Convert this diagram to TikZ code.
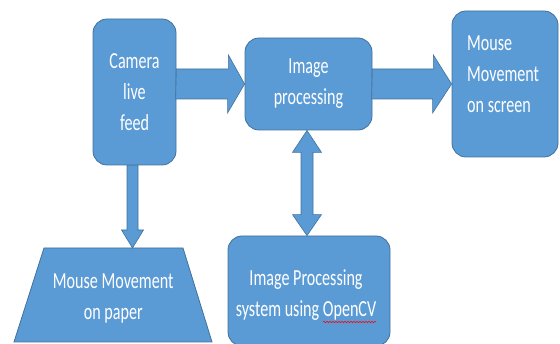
\documentclass[tikz,border=0pt]{standalone}
\usepackage{fontspec}
\setmainfont{Carlito}[FakeStretch=0.70]
\usetikzlibrary{calc,decorations.pathmorphing}
\definecolor{boxblue}{HTML}{5B9BD5}
\definecolor{boxedge}{HTML}{41719C}
\tikzset{
  box/.style={draw=boxedge, line width=0.8pt, fill=boxblue, rounded corners=14pt, inner sep=0pt},
  arr/.style={draw=boxedge, line width=0.6pt, fill=boxblue, line join=miter},
  lbl/.style={text=white, font=\fontsize{23}{31}\selectfont, align=center, inner sep=0pt},
}
\begin{document}
\begin{tikzpicture}[x=1pt,y=-1pt]
\useasboundingbox (0,0) rectangle (560,344);
% boxes
\node[box, minimum width=83pt, minimum height=146pt] (cam) at (134.5,92) {};
\node[box, minimum width=127pt, minimum height=92pt] (img) at (308.5,84) {};
\node[box, minimum width=106pt, minimum height=146pt] (scr) at (505,84) {};
\node[box, minimum width=162pt, minimum height=110pt] (ocv) at (309,291) {};
% trapezoid
\coordinate (t1) at (44,248);
\coordinate (t2) at (183,248);
\coordinate (t3) at (212,342);
\coordinate (t4) at (14,342);
\draw[arr, line width=0.8pt] (t1) -- (t2) -- (t3) -- (t4) -- cycle;
\coordinate (trap) at ($($(t1)!0.5!(t2)$)!0.5!($(t4)!0.5!(t3)$)$);
% labels
\node[lbl] (camtext) at (cam.center) {Camera\\live\\feed};
\node[lbl] (imgtext) at (img.center) {Image\\processing};
\node[lbl, align=left, anchor=north west] (scrtext) at (467,36) {Mouse\\Movement\\on screen};
\node[lbl] (traptext) at ($(trap)+(0,3)$) {Mouse Movement\\on paper};
\node[lbl] (ocvtext) at ($(ocv.center)+(-3,4)$) {Image Processing\\system using OpenCV};
\draw[red, line width=0.5pt, decorate, decoration={snake, amplitude=0.8pt, segment length=3pt}] (323,322) -- (376,322);
% arrow camera -> image processing
\draw[arr] (cam.east |- img.west) ++(0,-15) -- ++(52,0) -- ++(0,-14) -- (img.west) -- ++(-17,29) -- ++(0,-14) -- ++(-52,0) -- cycle;
% arrow image processing -> screen
\draw[arr] (img.east |- scr.west) ++(0,-15) -- ++(61,0) -- ++(0,-14) -- (scr.west) -- ++(-19,29) -- ++(0,-14) -- ++(-61,0) -- cycle;
% double arrow image processing <-> opencv
\coordinate (da1) at ($(img.south)+(-1.5,0)$);
\coordinate (da2) at (da1 |- ocv.north);
\draw[arr] (da1) -- ++(14.5,22) -- ++(-8.5,0) -- ($(da2)+(6,-21)$) -- ++(8.5,0) -- (da2) -- ++(-14.5,-21) -- ++(8.5,0) -- ($(da1)+(-6,22)$) -- ++(-8.5,0) -- cycle;
% down arrow camera -> trapezoid
\coordinate (dd1) at ($(cam.south)+(-2,0)$);
\coordinate (dd2) at (dd1 |- t1);
\draw[arr] (dd1) ++(-5.5,0) -- ++(11,0) -- ($(dd2)+(5.5,-18)$) -- ++(5.5,0) -- (dd2) -- ++(-11,-18) -- ++(5.5,0) -- cycle;
\end{tikzpicture}
\end{document}
